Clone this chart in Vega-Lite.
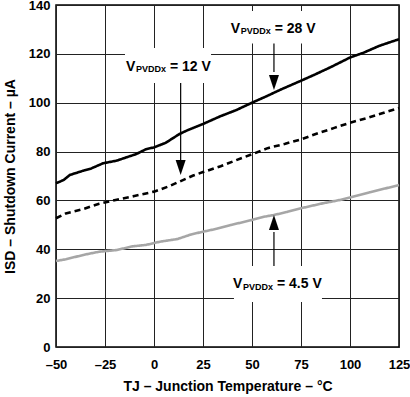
{
  "$schema": "https://vega.github.io/schema/vega-lite/v6.json",
  "width": 343,
  "height": 342,
  "autosize": "none",
  "padding": {"left": 56, "top": 5, "right": 11, "bottom": 50},
  "background": "white",
  "config": {
    "view": {"stroke": "#000000", "strokeWidth": 1.5},
    "font": "Liberation Sans",
    "axis": {
      "labelFont": "Liberation Sans",
      "labelFontSize": 13,
      "labelFontWeight": "bold",
      "labelColor": "#000000",
      "labelFlush": false,
      "labelOverlap": false,
      "titleFont": "Liberation Sans",
      "titleFontSize": 14,
      "titleFontWeight": "bold",
      "titleColor": "#000000",
      "grid": true,
      "gridColor": "#222222",
      "gridWidth": 1,
      "gridOpacity": 1,
      "ticks": false,
      "domain": false
    }
  },
  "datasets": {
    "curves": [
      {"t": -50, "i": 67.0, "s": "28 V"}, {"t": -46, "i": 68.4, "s": "28 V"}, {"t": -43, "i": 70.4, "s": "28 V"},
      {"t": -36, "i": 72.2, "s": "28 V"}, {"t": -32, "i": 73.1, "s": "28 V"}, {"t": -26, "i": 75.2, "s": "28 V"},
      {"t": -19, "i": 76.3, "s": "28 V"}, {"t": -9, "i": 79.0, "s": "28 V"}, {"t": -4, "i": 81.0, "s": "28 V"},
      {"t": 0, "i": 81.7, "s": "28 V"}, {"t": 6, "i": 83.6, "s": "28 V"}, {"t": 13, "i": 87.2, "s": "28 V"},
      {"t": 17, "i": 88.7, "s": "28 V"}, {"t": 25, "i": 91.3, "s": "28 V"}, {"t": 34, "i": 94.5, "s": "28 V"},
      {"t": 42, "i": 97.0, "s": "28 V"}, {"t": 50, "i": 100.0, "s": "28 V"}, {"t": 57, "i": 102.5, "s": "28 V"},
      {"t": 65, "i": 105.5, "s": "28 V"}, {"t": 75, "i": 109.0, "s": "28 V"}, {"t": 82, "i": 111.5, "s": "28 V"},
      {"t": 90, "i": 114.5, "s": "28 V"}, {"t": 100, "i": 118.5, "s": "28 V"}, {"t": 107, "i": 120.5, "s": "28 V"},
      {"t": 115, "i": 123.3, "s": "28 V"}, {"t": 125, "i": 126.0, "s": "28 V"},

      {"t": -50, "i": 52.7, "s": "12 V"}, {"t": -45, "i": 54.7, "s": "12 V"}, {"t": -36, "i": 56.5, "s": "12 V"},
      {"t": -28, "i": 58.6, "s": "12 V"}, {"t": -19, "i": 60.3, "s": "12 V"}, {"t": -10, "i": 61.8, "s": "12 V"},
      {"t": 0, "i": 63.6, "s": "12 V"}, {"t": 7, "i": 65.6, "s": "12 V"}, {"t": 13, "i": 67.7, "s": "12 V"},
      {"t": 20, "i": 70.2, "s": "12 V"}, {"t": 25, "i": 71.6, "s": "12 V"}, {"t": 34, "i": 74.0, "s": "12 V"},
      {"t": 42, "i": 76.5, "s": "12 V"}, {"t": 50, "i": 78.9, "s": "12 V"}, {"t": 58, "i": 81.4, "s": "12 V"},
      {"t": 67, "i": 83.2, "s": "12 V"}, {"t": 75, "i": 85.0, "s": "12 V"}, {"t": 84, "i": 87.6, "s": "12 V"},
      {"t": 92, "i": 89.7, "s": "12 V"}, {"t": 100, "i": 91.8, "s": "12 V"}, {"t": 108, "i": 93.6, "s": "12 V"},
      {"t": 114, "i": 95.1, "s": "12 V"}, {"t": 120, "i": 96.6, "s": "12 V"}, {"t": 125, "i": 97.8, "s": "12 V"},

      {"t": -50, "i": 35.2, "s": "4.5 V"}, {"t": -45, "i": 35.9, "s": "4.5 V"}, {"t": -36, "i": 37.7, "s": "4.5 V"},
      {"t": -28, "i": 39.0, "s": "4.5 V"}, {"t": -19, "i": 39.7, "s": "4.5 V"}, {"t": -11, "i": 41.2, "s": "4.5 V"},
      {"t": -4, "i": 41.8, "s": "4.5 V"}, {"t": 3, "i": 43.1, "s": "4.5 V"}, {"t": 12, "i": 44.2, "s": "4.5 V"},
      {"t": 19, "i": 46.1, "s": "4.5 V"}, {"t": 25, "i": 47.2, "s": "4.5 V"}, {"t": 32, "i": 48.4, "s": "4.5 V"},
      {"t": 39, "i": 49.9, "s": "4.5 V"}, {"t": 50, "i": 52.0, "s": "4.5 V"}, {"t": 56, "i": 53.3, "s": "4.5 V"},
      {"t": 61, "i": 54.0, "s": "4.5 V"}, {"t": 68, "i": 55.3, "s": "4.5 V"}, {"t": 75, "i": 56.8, "s": "4.5 V"},
      {"t": 86, "i": 58.8, "s": "4.5 V"}, {"t": 95, "i": 60.2, "s": "4.5 V"}, {"t": 100, "i": 61.2, "s": "4.5 V"},
      {"t": 110, "i": 63.3, "s": "4.5 V"}, {"t": 118, "i": 64.9, "s": "4.5 V"}, {"t": 125, "i": 66.3, "s": "4.5 V"}
    ],
    "notes": [
      {"eq": "= 12 V", "tx": -14.3, "ty": 113.1, "bx1": -14.8, "bx2": 29.1, "by1": 108.1, "by2": 122.4,
       "ax": 13.6, "ay1": 108.1, "ay2": 76.5, "tip": 70.4, "dir": "down"},
      {"eq": "= 28 V", "tx": 39.1, "ty": 128.7, "bx1": 38.0, "bx2": 82.0, "by1": 124.2, "by2": 137.5,
       "ax": 61.2, "ay1": 124.2, "ay2": 112.6, "tip": 105.2, "dir": "down"},
      {"eq": "= 4.5 V", "tx": 40.3, "ty": 24.0, "bx1": 40.8, "bx2": 85.7, "by1": 18.4, "by2": 33.2,
       "ax": 61.2, "ay1": 33.2, "ay2": 47.1, "tip": 54.0, "dir": "up"}
    ]
  },
  "layer": [
    {
      "data": {"name": "curves"},
      "mark": {"type": "line", "strokeWidth": 2.6, "interpolate": "linear"},
      "encoding": {
        "x": {
          "field": "t", "type": "quantitative",
          "scale": {"domain": [-50, 125], "nice": false, "zero": false},
          "axis": {
            "values": [-50, -25, 0, 25, 50, 75, 100, 125],
            "labelPadding": 11,
            "labelExpr": "datum.value < 0 ? '–' + abs(datum.value) : '' + datum.value",
            "title": "TJ – Junction Temperature – °C",
            "titlePadding": 8
          }
        },
        "y": {
          "field": "i", "type": "quantitative",
          "scale": {"domain": [0, 140], "nice": false},
          "axis": {
            "values": [0, 20, 40, 60, 80, 100, 120, 140],
            "labelPadding": 6,
            "title": "ISD – Shutdown Current – µA",
            "titlePadding": 11
          }
        },
        "color": {
          "field": "s", "type": "nominal",
          "scale": {"domain": ["28 V", "12 V", "4.5 V"], "range": ["#000000", "#000000", "#a6a6a6"]},
          "legend": null
        },
        "strokeDash": {
          "field": "s", "type": "nominal",
          "scale": {"domain": ["28 V", "12 V", "4.5 V"], "range": [[1, 0], [6, 4], [1, 0]]},
          "legend": null
        }
      }
    },
    {
      "data": {"name": "notes"},
      "mark": {"type": "rect", "fill": "white", "stroke": null},
      "encoding": {
        "x": {"field": "bx1", "type": "quantitative"},
        "x2": {"field": "bx2"},
        "y": {"field": "by1", "type": "quantitative"},
        "y2": {"field": "by2"}
      }
    },
    {
      "data": {"name": "notes"},
      "mark": {"type": "rule", "color": "#000000", "strokeWidth": 1.2},
      "encoding": {
        "x": {"field": "ax", "type": "quantitative"},
        "y": {"field": "ay1", "type": "quantitative"},
        "y2": {"field": "ay2"}
      }
    },
    {
      "data": {"name": "notes"},
      "mark": {"type": "point", "filled": true, "color": "#000000", "opacity": 1, "size": 100, "strokeWidth": 0},
      "encoding": {
        "x": {"field": "ax", "type": "quantitative"},
        "y": {"field": "tip", "type": "quantitative"},
        "shape": {
          "field": "dir", "type": "nominal",
          "scale": {"domain": ["down", "up"], "range": ["M-1,-3L1,-3L0,0Z", "M-1,3L1,3L0,0Z"]},
          "legend": null
        }
      }
    },
    {
      "data": {"name": "notes"},
      "mark": {"type": "text", "text": "V", "align": "left", "baseline": "alphabetic", "font": "Liberation Sans", "fontSize": 14, "fontWeight": "bold", "color": "#000000"},
      "encoding": {
        "x": {"field": "tx", "type": "quantitative"},
        "y": {"field": "ty", "type": "quantitative"}
      }
    },
    {
      "data": {"name": "notes"},
      "mark": {"type": "text", "text": "PVDDx", "align": "left", "baseline": "alphabetic", "dx": 10, "dy": 1.5, "font": "Liberation Sans", "fontSize": 9, "fontWeight": "bold", "color": "#000000"},
      "encoding": {
        "x": {"field": "tx", "type": "quantitative"},
        "y": {"field": "ty", "type": "quantitative"}
      }
    },
    {
      "data": {"name": "notes"},
      "mark": {"type": "text", "align": "left", "baseline": "alphabetic", "dx": 44, "font": "Liberation Sans", "fontSize": 14, "fontWeight": "bold", "color": "#000000"},
      "encoding": {
        "x": {"field": "tx", "type": "quantitative"},
        "y": {"field": "ty", "type": "quantitative"},
        "text": {"field": "eq"}
      }
    }
  ]
}
